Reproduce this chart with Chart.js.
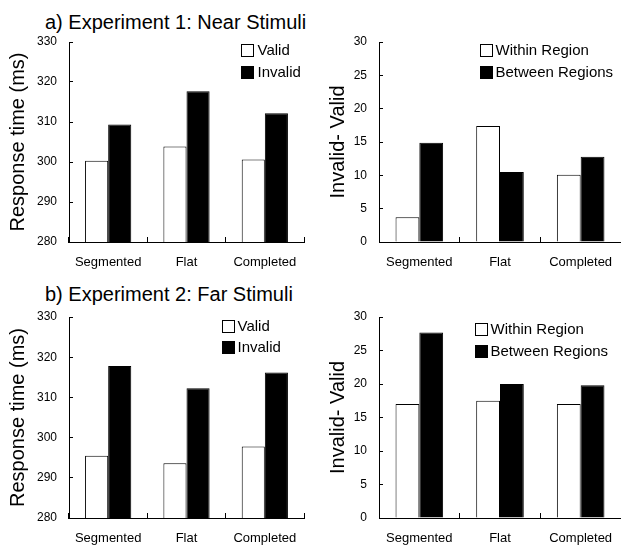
<!DOCTYPE html>
<html lang="en">
<head>
  <meta charset="UTF-8">
  <title>Experiment 1 and 2: response times</title>
  <style>
    html, body {
      margin: 0;
      padding: 0;
      background: #fff;
      overflow: hidden;
    }
    body {
      width: 621px;
      height: 548px;
      position: relative;
      font-family: "Liberation Sans", Arial, sans-serif;
    }
    .title {
      position: absolute;
      left: 45px;
      font-size: 20px;
      line-height: 24px;
      color: #000;
      white-space: nowrap;
    }
    .panel {
      position: absolute;
    }
  </style>
</head>
<body>
  <div class="title" style="top: 10px;">a) Experiment 1: Near Stimuli</div>
  <div class="title" style="top: 282px;">b) Experiment 2: Far Stimuli</div>

  <div class="panel" style="left: 0; top: 30px;"><canvas id="rt1" width="310" height="250"></canvas></div>
  <div class="panel" style="left: 310px; top: 30px;"><canvas id="diff1" width="311" height="250"></canvas></div>
  <div class="panel" style="left: 0; top: 305px;"><canvas id="rt2" width="310" height="243"></canvas></div>
  <div class="panel" style="left: 310px; top: 305px;"><canvas id="diff2" width="311" height="243"></canvas></div>

  <script src="https://cdn.jsdelivr.net/npm/chart.js"></script>
  <script>
    const categories = ['Segmented', 'Flat', 'Completed'];

    // response times (ms)
    const exp1Valid = [300.3, 303.9, 300.6];
    const exp1Invalid = [309.4, 317.7, 312.2];
    const exp2Valid = [295.5, 293.6, 297.8];
    const exp2Invalid = [317.8, 312.3, 316.2];

    // invalid - valid
    const exp1Within = [3.7, 17.4, 10.1];
    const exp1Between = [14.9, 10.5, 12.8];
    const exp2Within = [17.0, 17.5, 17.0];
    const exp2Between = [27.7, 20.0, 19.8];

    const rtTicks = { min: 280, max: 330, step: 10 };
    const diffTicks = { min: 0, max: 30, step: 5 };

    const FONT = '"Liberation Sans", Arial, sans-serif';

    // legend drawn inside the plot area, boxes + labels
    const boxLegend = {
      id: 'boxLegend',
      afterDraw(chart, args, opts) {
        const ctx = chart.ctx;
        const area = chart.chartArea;
        ctx.save();
        ctx.font = '15px ' + FONT;
        ctx.textBaseline = 'middle';
        ctx.textAlign = 'left';
        chart.data.datasets.forEach((ds, i) => {
          const bx = Math.round(area.left + opts.x) + 0.5;
          const by = Math.round(area.top + opts.y + i * opts.rowH) + 0.5;
          ctx.fillStyle = ds.backgroundColor;
          ctx.fillRect(bx, by, 12, 12);
          ctx.strokeStyle = '#000';
          ctx.lineWidth = 1;
          ctx.strokeRect(bx, by, 12, 12);
          ctx.fillStyle = '#000';
          ctx.fillText(ds.label, bx + opts.gap, by + 6.5);
        });
        ctx.restore();
      }
    };

    function makeChart(id, labels, values, ticks, yTitle, legendPos, sizes) {
      const ctx = document.getElementById(id).getContext('2d');
      return new Chart(ctx, {
        type: 'bar',
        data: {
          labels: categories,
          datasets: [{
            label: labels[0],
            data: values[0],
            backgroundColor: '#ffffff',
            borderColor: '#000000',
            borderWidth: 1
          }, {
            label: labels[1],
            data: values[1],
            backgroundColor: '#000000',
            borderColor: '#000000',
            borderWidth: 1
          }]
        },
        options: {
          responsive: false,
          animation: false,
          categoryPercentage: 0.59,
          barPercentage: 1.0,
          layout: {
            padding: { top: sizes.top, right: sizes.right, left: 0, bottom: 0 }
          },
          plugins: {
            legend: { display: false },
            tooltip: { enabled: false },
            boxLegend: legendPos
          },
          scales: {
            x: {
              grid: {
                display: true,
                drawOnChartArea: false,
                drawTicks: true,
                tickLength: -5,
                color: '#000'
              },
              border: { display: true, color: '#000', width: 1 },
              ticks: {
                color: '#000',
                padding: 18,
                maxRotation: 0,
                font: { family: FONT, size: 13 }
              },
              afterFit(scale) {
                scale.height = sizes.xh;
                scale.paddingLeft = 0;
                scale.paddingRight = 0;
              }
            },
            y: {
              min: ticks.min,
              max: ticks.max,
              grid: {
                display: true,
                drawOnChartArea: false,
                drawTicks: true,
                tickLength: -4,
                color: '#000'
              },
              border: { display: true, color: '#000', width: 1 },
              ticks: {
                stepSize: ticks.step,
                color: '#000',
                padding: 16,
                font: { family: FONT, size: 12 }
              },
              title: {
                display: true,
                text: yTitle,
                color: '#000',
                padding: { top: sizes.titlePad, bottom: 0 },
                font: { family: FONT, size: 20 }
              },
              afterFit(scale) {
                scale.width = sizes.yw;
                scale.paddingTop = 0;
                scale.paddingBottom = 0;
              }
            }
          }
        },
        plugins: [boxLegend]
      });
    }

    makeChart('rt1', ['Valid', 'Invalid'], [exp1Valid, exp1Invalid], rtTicks,
      'Response time (ms)',
      { x: 172, y: 1.5, rowH: 22, gap: 16 },
      { top: 12, right: 6, xh: 38, yw: 69, titlePad: 6 });

    makeChart('diff1', ['Within Region', 'Between Regions'], [exp1Within, exp1Between], diffTicks,
      'Invalid- Valid',
      { x: 101, y: 1.5, rowH: 22, gap: 15 },
      { top: 12, right: 0, xh: 38, yw: 69, titlePad: 16 });

    makeChart('rt2', ['Valid', 'Invalid'], [exp2Valid, exp2Invalid], rtTicks,
      'Response time (ms)',
      { x: 153, y: 2.5, rowH: 21, gap: 15 },
      { top: 12, right: 6, xh: 30, yw: 69, titlePad: 6 });

    makeChart('diff2', ['Within Region', 'Between Regions'], [exp2Within, exp2Between], diffTicks,
      'Invalid- Valid',
      { x: 96, y: 5.5, rowH: 22, gap: 15 },
      { top: 12, right: 0, xh: 30, yw: 69, titlePad: 16 });
  </script>
</body>
</html>
